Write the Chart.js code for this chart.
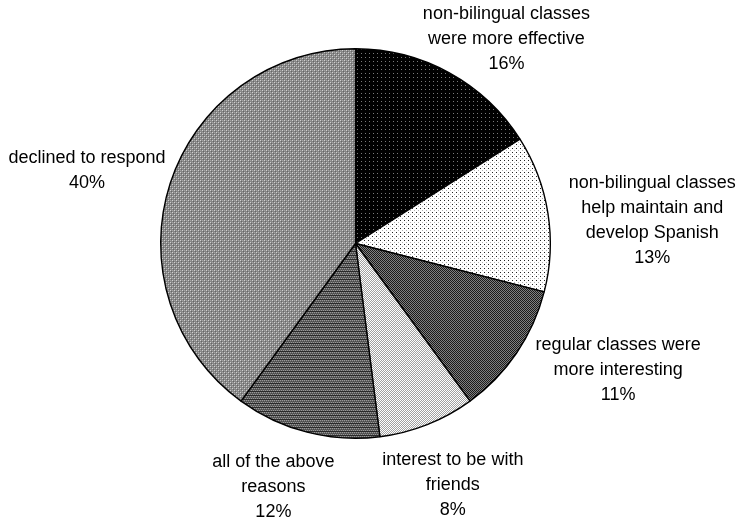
<!DOCTYPE html>
<html>
<head>
<meta charset="utf-8">
<script src="https://cdn.jsdelivr.net/npm/chart.js@4.4.1/dist/chart.umd.min.js"></script>
<style>
  body { margin: 0; background: #fff; }
  canvas { display: block; }
</style>
</head>
<body>
<canvas id="chart" width="741" height="524"></canvas>
<script>
// data
const categories = [
  ["non-bilingual classes", "were more effective"],
  ["non-bilingual classes", "help maintain and", "develop Spanish"],
  ["regular classes were", "more interesting"],
  ["interest to be with", "friends"],
  ["all of the above", "reasons"],
  ["declined to respond"]
];
const percentValues = [16, 13, 11, 8, 12, 40];

// label nudges (px) relative to the automatic outside position
const labelNudge = [[12, 8], [12, 17], [25, -10], [-4, 16], [-16, 9], [1, -2]];

// small tiled patterns like the old excel fills
function makePattern(size, base, dots) {
  const c = document.createElement("canvas");
  c.width = size;
  c.height = size;
  const g = c.getContext("2d");
  g.fillStyle = base;
  g.fillRect(0, 0, size, size);
  dots.forEach(function (d) {
    g.fillStyle = d[2];
    g.fillRect(d[0], d[1], 1, 1);
  });
  return g.createPattern(c, "repeat");
}

const fills = [
  makePattern(4, "#000", [[1, 1, "#7a7a7a"]]),
  makePattern(4, "#fff", [[0, 0, "#222"], [2, 2, "#b0b0b0"]]),
  makePattern(2, "#1a1a1a", [[1, 0, "#808080"], [0, 1, "#808080"]]),
  makePattern(2, "#fff", [[1, 0, "#a0a0a0"], [0, 1, "#a0a0a0"]]),
  makePattern(4, "#5e5e5e", [[0, 0, "#999"], [2, 0, "#999"], [1, 1, "#4a4a4a"], [3, 1, "#4a4a4a"],
    [1, 2, "#999"], [3, 2, "#999"], [0, 3, "#2a2a2a"], [1, 3, "#2a2a2a"], [2, 3, "#2a2a2a"], [3, 3, "#2a2a2a"]]),
  makePattern(4, "#868686", [[0, 0, "#d0d0d0"], [2, 2, "#d0d0d0"], [2, 0, "#a4a4a4"], [0, 2, "#a4a4a4"],
    [1, 1, "#666"], [3, 3, "#666"]])
];

const outsideLabels = {
  id: "outsideLabels",
  afterDatasetsDraw(chart) {
    const ctx = chart.ctx;
    const meta = chart.getDatasetMeta(0);
    const lineH = 25;
    ctx.save();
    ctx.font = "18px 'Liberation Sans', Arial, sans-serif";
    ctx.fillStyle = "#000";
    ctx.textAlign = "center";
    ctx.textBaseline = "middle";
    meta.data.forEach(function (arc, i) {
      const lines = categories[i].concat([percentValues[i] + "%"]);
      const mid = (arc.startAngle + arc.endAngle) / 2;
      const r = arc.outerRadius + 10;
      const ax = arc.x + Math.cos(mid) * r;
      const ay = arc.y + Math.sin(mid) * r;
      let w = 0;
      lines.forEach(function (t) { w = Math.max(w, ctx.measureText(t).width); });
      const h = lines.length * lineH;
      const cx = ax + Math.cos(mid) * w / 2 + labelNudge[i][0];
      const cy = ay + Math.sin(mid) * h / 2 + labelNudge[i][1];
      lines.forEach(function (t, k) {
        ctx.fillText(t, cx, cy - h / 2 + lineH / 2 + k * lineH);
      });
    });
    ctx.restore();
  }
};

const ctx = document.getElementById("chart").getContext("2d");
const myChart = new Chart(ctx, {
  type: "pie",
  data: {
    labels: categories.map(function (c) { return c.join(" "); }),
    datasets: [{
      data: percentValues,
      backgroundColor: fills,
      borderColor: "#000",
      borderWidth: 1.4,
      hoverOffset: 0
    }]
  },
  options: {
    responsive: false,
    animation: false,
    layout: { padding: { left: 160, right: 190, top: 48, bottom: 85 } },
    plugins: {
      legend: { display: false },
      tooltip: { enabled: false }
    }
  },
  plugins: [outsideLabels]
});
</script>
</body>
</html>
